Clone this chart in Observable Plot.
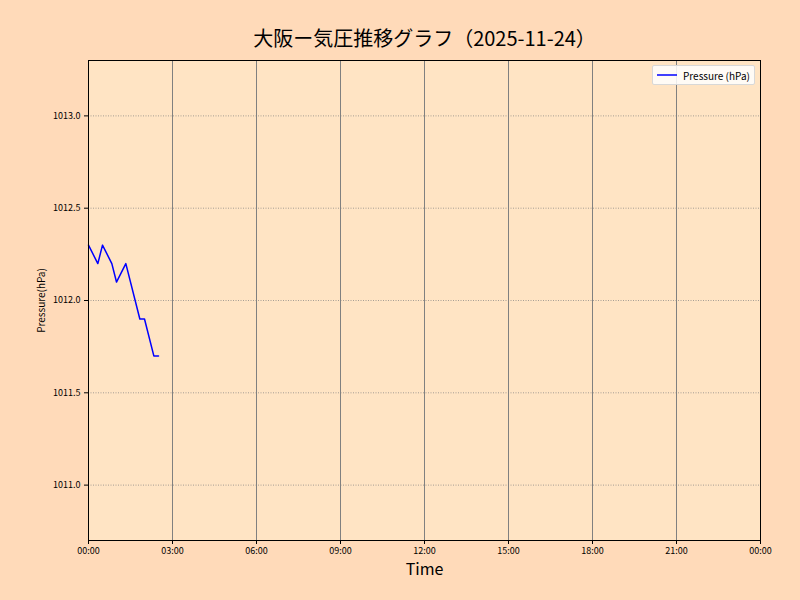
<!DOCTYPE html>
<html>
<head>
<meta charset="utf-8">
<script src="https://cdn.jsdelivr.net/npm/d3@7"></script>
<script src="https://cdn.jsdelivr.net/npm/@observablehq/plot@0.6"></script>
<style>
  html, body { margin: 0; padding: 0; background: #FFDAB9; }
  #wrap { position: relative; width: 800px; height: 600px; font-family: "Noto Sans CJK JP", "Noto Sans", sans-serif; }
  #legend { position: absolute; left: 652px; top: 65px; width: 101px; height: 18px; background: rgba(255,255,255,0.85); border: 1px solid #d8d8d8; border-radius: 2px; font-size: 10px; display: flex; align-items: center; color: #000; }
  #legend svg { margin: 0 6px 0 4px; }
</style>
</head>
<body>
<div id="wrap">
  <div id="chart"></div>
  <div id="legend"><svg width="20" height="4"><line x1="0" y1="2" x2="20" y2="2" stroke="#0000ff" stroke-width="1.5"/></svg><span>Pressure (hPa)</span></div>
</div>
<script>
const titleText = "大阪ー気圧推移グラフ（2025-11-24）";
const dateStr = "2025-11-24";
const times = ["00:00", "00:20", "00:30", "00:50", "01:00", "01:20", "01:50", "02:00", "02:20", "02:30"];
const pressures = [1012.3, 1012.2, 1012.3, 1012.2, 1012.1, 1012.2, 1011.9, 1011.9, 1011.7, 1011.7];
const yTicks = [1011.0, 1011.5, 1012.0, 1012.5, 1013.0];
const xTickHours = [0, 3, 6, 9, 12, 15, 18, 21, 24];

const day0 = new Date(dateStr + "T00:00:00Z");
const toDate = (t) => new Date(dateStr + "T" + t + ":00Z");
const data = times.map((t, i) => ({ time: toDate(t), p: pressures[i] }));
const xTicks = xTickHours.map(h => new Date(day0.getTime() + h * 3600 * 1000));

const chart = Plot.plot({
  width: 800,
  height: 600,
  marginLeft: 88,
  marginRight: 40,
  marginTop: 60,
  marginBottom: 60,
  style: { background: "#FFDAB9", fontFamily: "'Noto Sans CJK JP', 'Noto Sans', sans-serif", color: "#000" },
  x: { type: "utc", domain: [xTicks[0], xTicks[xTicks.length - 1]] },
  y: { domain: [1010.7, 1013.3] },
  marks: [
    Plot.frame({ fill: "#FFE4C4", stroke: null }),
    Plot.ruleX(xTicks.slice(1, -1), { stroke: "#808080", strokeWidth: 1 }),
    Plot.ruleY(yTicks, { stroke: "#808080", strokeWidth: 0.7, strokeDasharray: "1,1.5" }),
    Plot.line(data, { x: "time", y: "p", stroke: "#0000ff", strokeWidth: 1.5 }),
    Plot.frame({ stroke: "#000", strokeWidth: 1 }),
    Plot.axisX({ ticks: xTicks, tickFormat: d3.utcFormat("%H:%M"), label: null, fontSize: 9, tickSize: 4, tickPadding: 3 }),
    Plot.axisY({ ticks: yTicks, tickFormat: d3.format(".1f"), label: null, fontSize: 9, tickSize: 4, tickPadding: 4 }),
    Plot.text([titleText], { frameAnchor: "top", fontSize: 20, fill: "#000", dy: -29 }),
    Plot.text(["Time"], { frameAnchor: "bottom", dy: 34, fontSize: 16, fill: "#000" }),
    Plot.text(["Pressure(hPa)"], { frameAnchor: "left", dx: -47, rotate: -90, textAnchor: "middle", fontSize: 10, fill: "#000" })
  ]
});
document.getElementById("chart").appendChild(chart);
</script>
</body>
</html>
